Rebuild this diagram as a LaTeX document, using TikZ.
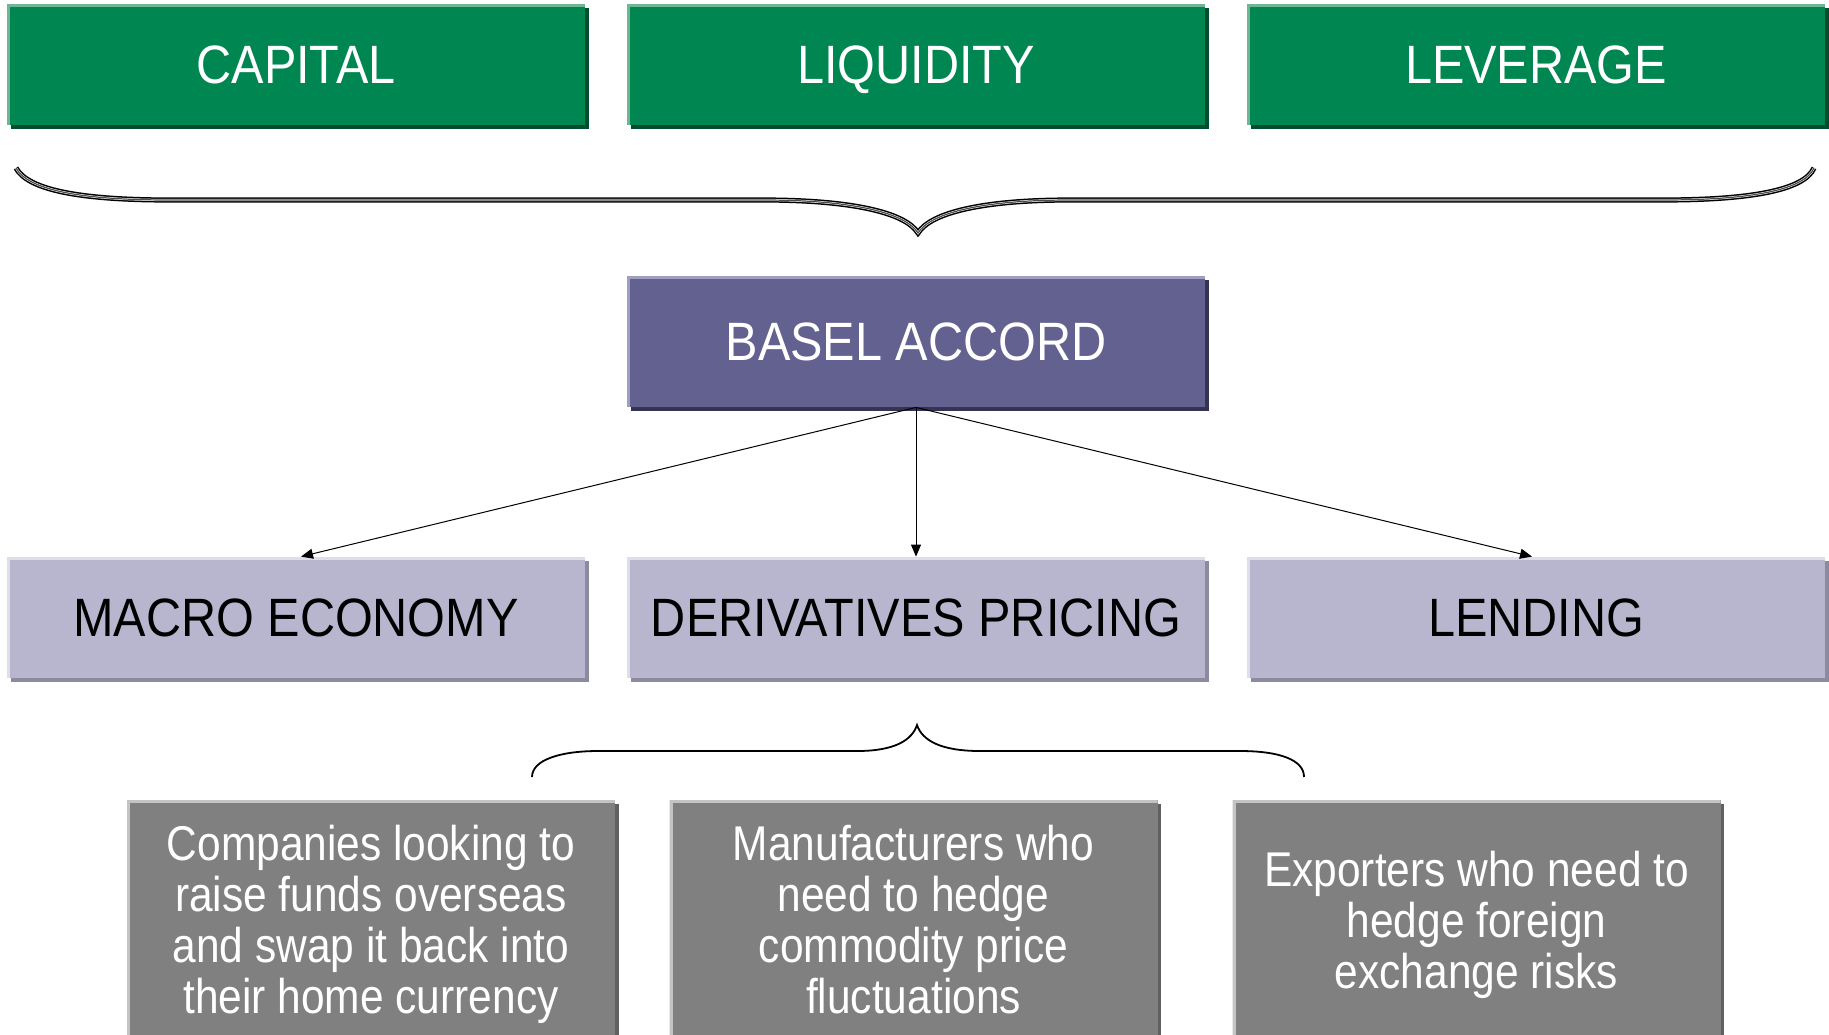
\documentclass[tikz,border=0pt]{standalone}
\usepackage{fontspec}
\setmainfont{Liberation Sans}
\newfontfamily\labfont[FakeStretch=0.9]{Liberation Sans}
\newfontfamily\txtfont[FakeStretch=0.87]{Liberation Sans}
\usetikzlibrary{arrows.meta,shadows}
\definecolor{grn}{RGB}{0,134,80}
\definecolor{grnlt}{RGB}{110,182,148}
\definecolor{grndk}{RGB}{0,78,46}
\definecolor{pur}{RGB}{99,97,144}
\definecolor{purlt}{RGB}{160,158,192}
\definecolor{purdk}{RGB}{52,51,82}
\definecolor{lav}{RGB}{184,182,206}
\definecolor{lavlt}{RGB}{222,221,234}
\definecolor{lavdk}{RGB}{140,138,160}
\definecolor{gry}{RGB}{128,128,128}
\definecolor{grylt}{RGB}{196,196,196}
\definecolor{grydk}{RGB}{96,96,96}
\tikzset{
  hl/.style={path picture={\draw[#1,line width=3pt]
      (path picture bounding box.south west) -- (path picture bounding box.north west)
      -- (path picture bounding box.north east);}},
  shd/.style={drop shadow={shadow xshift=1.8pt,shadow yshift=-1.8pt,fill=#1,opacity=1}},
  boxbase/.style={minimum width=289pt,minimum height=60.5pt,inner sep=0pt,align=center,
      text height=19.4pt,text depth=0pt,
      font=\labfont\fontsize{27}{32}\selectfont},
  topbox/.style={boxbase,fill=grn,text=white,shd=grndk,hl=grnlt},
  basebox/.style={boxbase,minimum height=65.5pt,fill=pur,text=white,shd=purdk,hl=purlt},
  midbox/.style={boxbase,fill=lav,text=black,shd=lavdk,hl=lavlt},
  lowbox/.style={minimum width=244pt,minimum height=124.5pt,inner sep=0pt,align=center,
      fill=gry,text=white,shd=grydk,hl=grylt,
      font=\txtfont\fontsize{24.4}{25.5}\selectfont},
  arr/.style={line width=0.5pt,-{Triangle[length=6pt,width=5pt]}},
}
\begin{document}
\begin{tikzpicture}[x=0.5pt,y=-0.5pt]
\useasboundingbox (0,0) rectangle (1829,1034);
\clip (0,0) rectangle (1829,1034);
\fill[white] (0,0) rectangle (1829,1034);

% top row
\node[topbox] (cap) at (296,64.5) {CAPITAL};
\node[topbox] (liq) at (916,64.5) {LIQUIDITY};
\node[topbox] (lev) at (1536,64.5) {LEVERAGE};

% top brace
\def\topbrace{(16,168) .. controls (28,190) and (80,200) .. (170,200) -- (763,200)
  .. controls (850,200) and (905,212) .. (918,233)
  .. controls (931,212) and (985,200) .. (1070,200) -- (1662,200)
  .. controls (1752,200) and (1804,190) .. (1814,168)}
\draw[line width=2.6pt,black] \topbrace;
\draw[line width=1.1pt,white] \topbrace;
\draw[line width=0.6pt,black!70] \topbrace;

% basel
\node[basebox] (basel) at (916,341.5) {BASEL ACCORD};

% middle row
\node[midbox] (macro) at (296,617.5) {MACRO ECONOMY};
\node[midbox] (deriv) at (916,617.5) {DERIVATIVES PRICING};
\node[midbox] (lend) at (1536,617.5) {LENDING};

\draw[arr] (basel.south) -- ([xshift=2.5pt]macro.north);
\draw[arr] (basel.south) -- (deriv.north);
\draw[arr] (basel.south) -- ([xshift=-2pt]lend.north);

% bottom brace
\draw[line width=0.9pt] (532,777) .. controls (532,760) and (560,751) .. (598,751) -- (857,751)
  .. controls (895,751) and (912,740) .. (917,725)
  .. controls (922,740) and (940,751) .. (980,751) -- (1240,751)
  .. controls (1280,751) and (1304,760) .. (1304,777);

% bottom row
\node[lowbox] (comp) at (371,924.5) {Companies looking to\\raise funds overseas\\and swap it back into\\their home currency};
\node[lowbox] (manu) at (913.5,924.5) {Manufacturers who\\need to hedge\\commodity price\\fluctuations\vphantom{y}};
\node[lowbox] (expo) at (1476.5,924.5) {Exporters who need to\\hedge foreign\\exchange risks};
\end{tikzpicture}
\end{document}
